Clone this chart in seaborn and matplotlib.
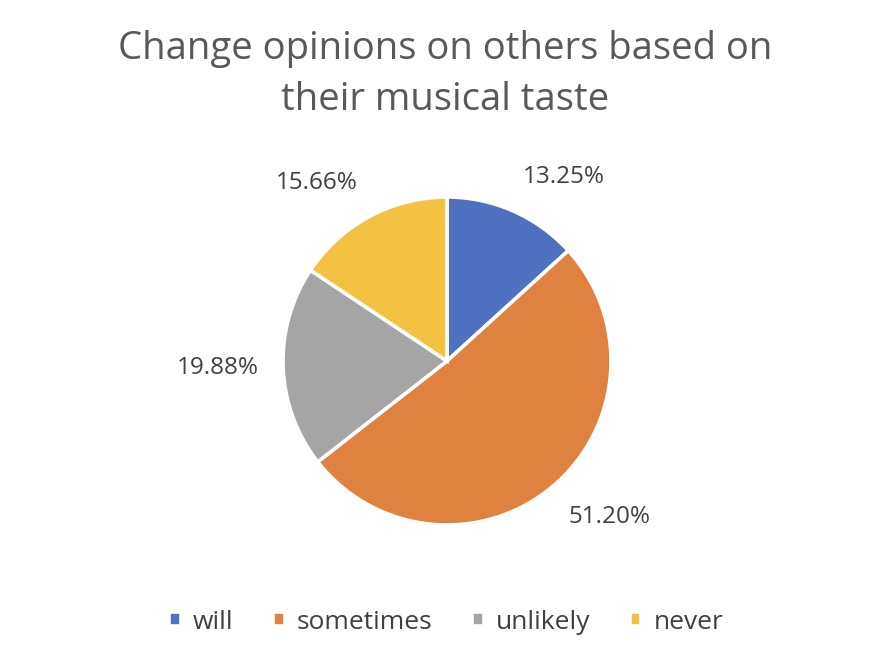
import matplotlib
matplotlib.use("Agg")
import numpy as np
import matplotlib.pyplot as plt
import seaborn as sns

sns.set_theme(style="white")
plt.rcParams['font.family'] = ['Open Sans', 'DejaVu Sans']

categories = ['will', 'sometimes', 'unlikely', 'never']
shares = [13.25, 51.20, 19.88, 15.66]
colours = ['#4E72C0', '#E0823F', '#A5A5A5', '#F4C242']
title = 'Change opinions on others based on\ntheir musical taste'

fig = plt.figure(figsize=(8.92, 6.66), dpi=100)
fig.patch.set_facecolor('white')

# pie centred near (447, 361) px, radius ~164 px
cx, cy, r = 447, 361, 164
ax = fig.add_axes([(cx - r) / 892, (666 - cy - r) / 666, 2 * r / 892, 2 * r / 666])
wedges, _ = ax.pie(
    shares, colors=colours, startangle=90, counterclock=False, radius=1,
    wedgeprops=dict(edgecolor='white', linewidth=2.6))

# Excel-style "outside end" labels: anchor just outside the rim, align away from it
for w, v in zip(wedges, shares):
    ang = np.deg2rad((w.theta1 + w.theta2) / 2)
    c, s = np.cos(ang), np.sin(ang)
    ha = 'left' if c > 0.3 else ('right' if c < -0.3 else 'center')
    va = 'bottom' if s > 0.3 else ('top' if s < -0.3 else 'center')
    ax.text(1.15 * c, 1.15 * s, f'{v:.2f}%', ha=ha, va=va,
            fontsize=17.5, color='#404040')

ax.set_xlim(-1, 1)
ax.set_ylim(-1, 1)
ax.set_aspect('equal')

fig.suptitle(title, x=0.499, y=0.955, fontsize=27.5, color='#595959', linespacing=1.45)

fig.legend(wedges, categories, loc='center', bbox_to_anchor=(0.5, 0.066), ncol=4,
           frameon=False, fontsize=19, handlelength=0.45, handleheight=0.45,
           handletextpad=0.45, columnspacing=1.5, labelcolor='#404040')

fig.savefig('out.png', dpi=100)
